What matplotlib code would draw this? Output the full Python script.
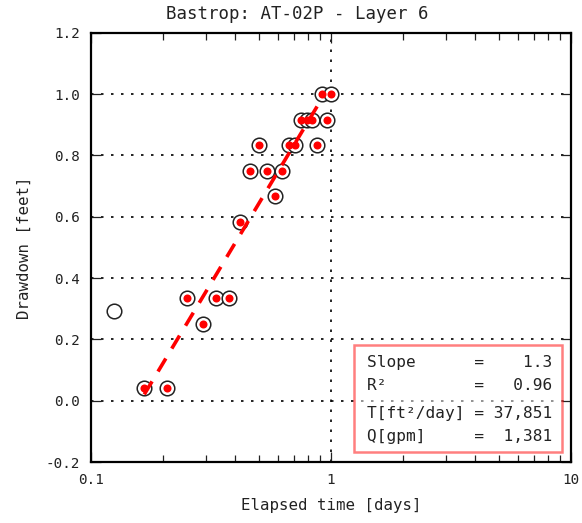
import matplotlib
matplotlib.use("Agg")
import matplotlib.pyplot as plt
import matplotlib.patches as mpatches
import numpy as np
from matplotlib.ticker import FixedLocator, FixedFormatter, LogLocator, NullFormatter

plt.rcParams['font.family'] = ['DejaVu Sans Mono', 'DejaVu Sans']
plt.rcParams['axes.unicode_minus'] = False

# hourly readings (days) and drawdown (feet)
time_days = [0.1250, 0.1667, 0.2083, 0.2500, 0.2917, 0.3333, 0.3750, 0.4167,
             0.4583, 0.5000, 0.5417, 0.5833, 0.6250, 0.6667, 0.7083, 0.7500,
             0.7917, 0.8333, 0.8750, 0.9167, 0.9583, 1.0000]
drawdown_ft = [0.2917, 0.0417, 0.0417, 0.3333, 0.2500, 0.3333, 0.3333, 0.5833,
               0.7500, 0.8333, 0.7500, 0.6667, 0.7500, 0.8333, 0.8333, 0.9167,
               0.9167, 0.9167, 0.8333, 1.0000, 0.9167, 1.0000]
used_in_fit = [False] + [True] * 21

# straight-line fit (drawdown per log cycle)
fit_slope = 1.304
fit_intercept = 1.035
fit_range = [0.1667, 0.9167]

stats_labels = ["Slope", "R²", "T[ft²/day]", "Q[gpm]"]
stats_values = ["1.3", "0.96", "37,851", "1,381"]

yticks = [-0.2, 0.0, 0.2, 0.4, 0.6, 0.8, 1.0, 1.2]
xticks = [0.1, 1, 10]
xtick_labels = ["0.1", "1", "10"]

fig = plt.figure(figsize=(5.82, 5.23), dpi=100)
ax = fig.add_axes([91 / 582, 61 / 523, 480 / 582, 429.3 / 523])

t = np.array(time_days)
s = np.array(drawdown_ft)
m = np.array(used_in_fit)

# open circles for all readings, red dots for those in the fit
ax.plot(t, s, 'o', ms=10.5, mfc='white', mec='#222222', mew=1.1, zorder=3)
ax.plot(t[m], s[m], 'o', ms=5.8, mfc='red', mec='red', mew=0, zorder=4)

xf = np.array(fit_range)
ax.plot(xf, fit_intercept + fit_slope * np.log10(xf), color='red', lw=2.6,
        linestyle=(0, (4.2, 3.2)), zorder=5)

ax.set_xscale('log')
ax.set_xlim(0.1, 10)
ax.set_ylim(-0.2, 1.2)
ax.xaxis.set_major_locator(FixedLocator(xticks))
ax.xaxis.set_major_formatter(FixedFormatter(xtick_labels))
ax.xaxis.set_minor_locator(LogLocator(base=10, subs=np.arange(2, 10)))
ax.xaxis.set_minor_formatter(NullFormatter())
ax.set_yticks(yticks)
ax.set_yticklabels([f"{v:.1f}" for v in yticks])

ax.tick_params(which='both', direction='in', top=True, right=True,
               labelsize=10.3, pad=8, width=0.9, colors='#222222')
ax.tick_params(which='major', length=7)
ax.tick_params(which='minor', length=5)
for sp in ax.spines.values():
    sp.set_linewidth(1.6)

ax.grid(True, which='major', color='black', lw=1.2, linestyle=(0, (1.5, 4.5)))

ax.set_xlabel("Elapsed time [days]", fontsize=11.3, labelpad=8, color='#222222')
ax.set_ylabel("Drawdown [feet]", fontsize=11.3, labelpad=10, color='#222222')
fig.text(297 / 582, 1 - 14 / 523, "Bastrop: AT-02P - Layer 6", fontsize=12.5,
         ha='center', va='center', color='#222222')

# results box: semi-transparent, so the zero grid line shows through
box = mpatches.Rectangle((0.548, 0.0233), 0.433, 0.249, transform=ax.transAxes,
                         facecolor='white', edgecolor='red', lw=1.8, alpha=0.5,
                         zorder=6)
ax.add_patch(box)
lines = [f"{lab:<10} = {val:>6}" for lab, val in zip(stats_labels, stats_values)]
ax.text(0.96, 0.205, "\n".join(lines[:2]), transform=ax.transAxes, ha='right',
        va='center', fontsize=11.6, linespacing=1.6, zorder=7, color='#222222')
ax.text(0.96, 0.0864, "\n".join(lines[2:]), transform=ax.transAxes, ha='right',
        va='center', fontsize=11.6, linespacing=1.6, zorder=7, color='#222222')

fig.savefig("out.png", dpi=100)
